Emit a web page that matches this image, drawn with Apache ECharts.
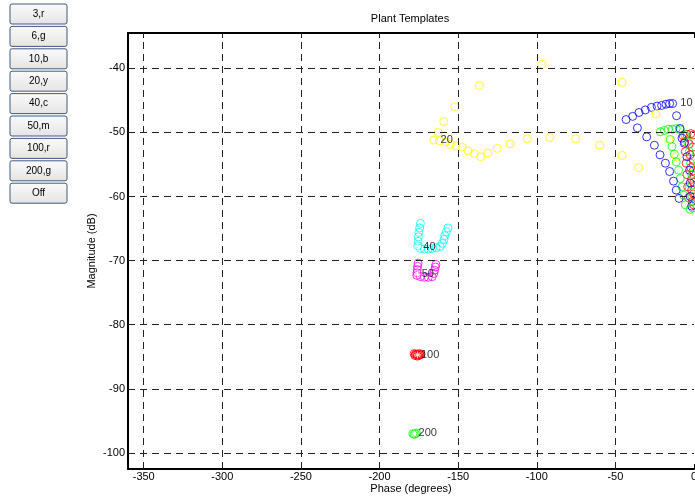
<!DOCTYPE html>
<html>
<head>
<meta charset="UTF-8">
<title>Plant Templates</title>
<script src="https://cdn.jsdelivr.net/npm/echarts@6/dist/echarts.min.js"></script>
<style>
body { margin: 0; background: #fff; }
#chart { width: 695px; height: 497px; }
</style>
</head>
<body>
<div id="chart"></div>
<script>
// button captions (left panel)
var buttonLabels = ['3,r', '6,g', '10,b', '20,y', '40,c', '50,m', '100,r', '200,g', 'Off'];

// axis ticks
var phaseTicks = [-350, -300, -250, -200, -150, -100, -50, 0];
var magTicks = [-100, -90, -80, -70, -60, -50, -40];

// templates: [phase (deg), magnitude (dB)]
var tpl3 = [[-7.0,-50.5],[-4.5,-50.3],[-2.0,-50.2],[-0.5,-50.4],[-6.0,-51.5],[-3.0,-51.8],[-1.0,-52.3],
    [-5.5,-53.0],[-2.5,-53.5],[-0.5,-54.2],[-5.0,-54.8],[-2.0,-55.5],[-0.5,-56.0],[-4.5,-56.6],
    [-1.5,-57.3],[-0.3,-57.8],[-4.0,-58.5],[-1.5,-59.0],[-0.3,-59.6],[-3.5,-60.2],[-1.2,-60.8],[-0.2,-61.3]];
var tpl6 = [[-21.4,-49.9],[-18.9,-49.7],[-16.3,-49.5],[-13.8,-49.5],[-11.3,-49.4],[-8.7,-49.6],
    [-15.1,-51.1],[-14.0,-52.2],[-12.5,-53.4],[-11.3,-54.6],[-9.8,-55.9],[-8.7,-57.2],[-7.6,-58.5],
    [-6.6,-59.8],[-5.5,-61.3],[-6.0,-50.3],[-4.0,-51.5],[-3.0,-53.0],[-2.2,-54.8],[-1.5,-56.5],
    [-1.2,-58.2],[-1.0,-60.0],[-0.8,-61.8],[-2.5,-62.0]];
var tpl10 = [[-43.2,-48.0],[-39.0,-47.5],[-35.0,-46.9],[-31.0,-46.5],[-27.1,-46.1],[-23.5,-45.9],
    [-20.6,-45.8],[-17.8,-45.6],[-15.5,-45.5],[-13.6,-45.5],[-11.1,-47.4],[-8.9,-49.4],
    [-36.0,-49.3],[-30.1,-50.7],[-25.2,-52.0],[-21.6,-53.5],[-18.2,-54.8],[-15.5,-56.1],
    [-13.0,-57.6],[-11.3,-59.0],[-9.5,-60.3],[-7.6,-50.9],[-6.2,-51.7],[-4.5,-53.8],
    [-2.8,-55.9],[-2.4,-57.9],[-2.4,-60.0],[-1.5,-61.5]];
var tpl20 = [[-96.7,-39.4],[-136.5,-42.7],[-152.2,-46.0],[-159.2,-48.3],[-162.7,-50.0],[-165.5,-51.2],
    [-161.9,-51.3],[-158.1,-51.5],[-154.9,-51.9],[-151.3,-52.1],[-147.5,-52.3],[-143.7,-52.9],
    [-139.7,-53.3],[-135.7,-53.8],[-131.2,-53.2],[-125.1,-52.5],[-117.0,-51.8],[-106.0,-51.0],
    [-91.8,-50.8],[-75.3,-51.0],[-60.0,-52.0],[-45.8,-42.2],[-24.2,-47.1],[-45.8,-53.6],
    [-35.2,-55.5],[-16.1,-51.1],[-11.4,-53.8]];
var tpl40 = [[-174.0,-64.2],[-174.5,-64.9],[-175.0,-65.6],[-175.3,-66.3],[-175.5,-67.0],[-175.7,-67.7],
    [-174.0,-68.1],[-171.5,-68.2],[-169.0,-68.2],[-166.5,-68.1],[-164.0,-68.0],[-161.5,-67.8],
    [-160.0,-67.3],[-159.0,-66.7],[-158.5,-66.1],[-157.5,-65.5],[-156.5,-64.9]];
var tpl50 = [[-175.5,-70.4],[-175.8,-70.9],[-176.0,-71.4],[-176.2,-71.9],[-176.3,-72.3],
    [-174.0,-72.5],[-171.5,-72.6],[-169.0,-72.6],[-166.5,-72.5],
    [-165.5,-72.0],[-165.0,-71.5],[-164.5,-71.0],[-164.2,-70.6]];
var tpl100 = [[-178.0,-84.5],[-177.2,-84.6],[-176.5,-84.6],[-175.8,-84.7],[-175.0,-84.8],[-174.3,-84.7],
    [-173.6,-84.6],[-176.0,-84.9],[-174.8,-84.5],[-177.5,-84.8]];
var tpl200 = [[-178.8,-97.0],[-178.0,-97.1],[-177.2,-97.0],[-176.5,-96.9]];

// nominal plant points (white asterisks)
var nominal = [[-175.8,-67.9],[-175.9,-72.1],[-175.8,-84.7],[-178.0,-97.0]];

// frequency labels
var freqText = ['10', '20', '40', '50', '100', '200'];
var freqPhase = [-9.0, -161.5, -172.5, -173.5, -174.0, -175.5];
var freqMag = [-45.4, -51.2, -67.9, -72.1, -84.7, -96.9];

var chart = echarts.init(document.getElementById('chart'));

var font = 'Liberation Sans, Arial, Helvetica, sans-serif';
var asterisk = 'path://M0,-5L0,5M-5,0L5,0M-3.5,-3.5L3.5,3.5M-3.5,3.5L3.5,-3.5';

function tplSeries(name, data, color) {
    return {
        name: name, type: 'scatter', data: data, z: 3,
        symbol: 'circle', symbolSize: 8,
        itemStyle: { color: 'rgba(0,0,0,0)', borderColor: color, borderWidth: 1 }
    };
}

// buttons drawn with graphic
var graphics = [];
buttonLabels.forEach(function (t, i) {
    graphics.push({
        type: 'group', x: 10, y: 4 + i * 22.4,
        children: [
            { type: 'rect', shape: { x: 0, y: 0, width: 57, height: 20, r: 2 },
              style: {
                fill: new echarts.graphic.LinearGradient(0, 0, 0, 1, [
                    { offset: 0, color: '#fbfbfb' }, { offset: 1, color: '#e4e4e4' }]),
                stroke: '#3c5a80', lineWidth: 1 } },
            { type: 'text', x: 28.5, y: 10,
              style: { text: t, fill: '#000', font: '10px ' + font,
                       align: 'center', verticalAlign: 'middle' } }
        ]
    });
});
graphics.push({
    type: 'text', x: 410, y: 19,
    style: { text: 'Plant Templates', fill: '#000', font: '11px ' + font,
             align: 'center', verticalAlign: 'middle' }
});

var gridLines = [];
phaseTicks.forEach(function (v) { if (v !== 0) gridLines.push({ xAxis: v }); });
magTicks.forEach(function (v) { gridLines.push({ yAxis: v }); });

var option = {
    animation: false,
    backgroundColor: '#fff',
    graphic: graphics,
    grid: { left: 128, right: 1, top: 33, bottom: 28, outerBoundsMode: 'none', containLabel: false },
    xAxis: [{
        type: 'value', min: -360, max: 0, position: 'bottom',
        name: 'Phase (degrees)', nameLocation: 'middle', nameGap: 14, nameMoveOverlap: false,
        nameTextStyle: { color: '#000', fontSize: 11, fontFamily: font },
        axisLine: { onZero: false, lineStyle: { color: '#000', width: 2 } },
        axisTick: { inside: true, length: 5, customValues: phaseTicks, lineStyle: { color: '#000' } },
        axisLabel: { customValues: phaseTicks, margin: 2, color: '#000', fontSize: 11, fontFamily: font,
                     showMinLabel: true, showMaxLabel: true },
        splitLine: { show: false }
    }, {
        type: 'value', min: -360, max: 0, position: 'top',
        axisLine: { onZero: false, lineStyle: { color: '#000', width: 2 } },
        axisTick: { inside: true, length: 5, customValues: phaseTicks, lineStyle: { color: '#000' } },
        axisLabel: { show: false },
        splitLine: { show: false }
    }],
    yAxis: {
        type: 'value', min: -102.5, max: -34.5,
        name: 'Magnitude (dB)', nameLocation: 'middle', nameGap: 31, nameMoveOverlap: false,
        nameTextStyle: { color: '#000', fontSize: 11, fontFamily: font },
        axisLine: { onZero: false, lineStyle: { color: '#000', width: 2 } },
        axisTick: { inside: true, length: 5, customValues: magTicks, lineStyle: { color: '#000' } },
        axisLabel: { customValues: magTicks, margin: 3, color: '#000', fontSize: 11, fontFamily: font },
        splitLine: { show: false }
    },
    series: [
        {
            type: 'scatter', data: [], z: 1, silent: true,
            markLine: {
                silent: true, symbol: 'none', animation: false,
                label: { show: false },
                lineStyle: { color: '#222', width: 1, type: [7, 5] },
                data: gridLines
            }
        },
        tplSeries('3,r', tpl3, '#ff0000'),
        tplSeries('6,g', tpl6, '#00ff00'),
        tplSeries('10,b', tpl10, '#0000ff'),
        tplSeries('20,y', tpl20, '#ffff00'),
        tplSeries('40,c', tpl40, '#00ffff'),
        tplSeries('50,m', tpl50, '#ff00ff'),
        tplSeries('100,r', tpl100, '#ff0000'),
        tplSeries('200,g', tpl200, '#00ff00'),
        {
            type: 'scatter', data: nominal, z: 4, symbol: asterisk, symbolSize: 7,
            itemStyle: { color: 'rgba(0,0,0,0)', borderColor: '#fff', borderWidth: 1 }
        },
        {
            type: 'scatter', z: 5, symbolSize: 1, silent: true,
            itemStyle: { color: 'rgba(0,0,0,0)' },
            data: freqText.map(function (t, i) { return { value: [freqPhase[i], freqMag[i]], name: t }; }),
            label: { show: true, position: 'right', distance: 0, formatter: '{b}',
                     color: '#000', fontSize: 11, fontFamily: font }
        }
    ]
};
chart.setOption(option);
</script>
</body>
</html>
